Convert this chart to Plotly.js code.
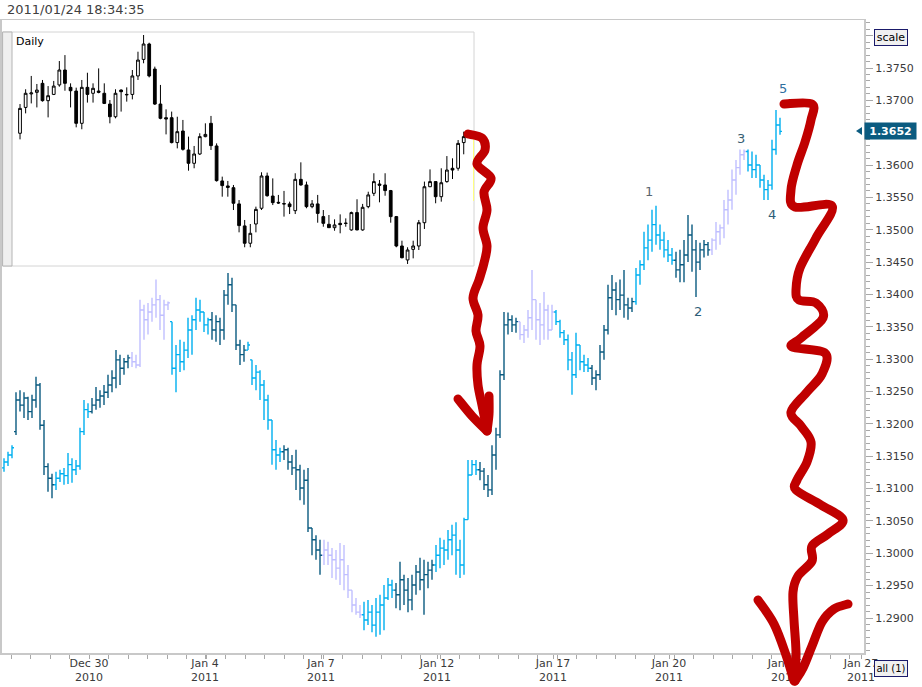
<!DOCTYPE html>
<html><head><meta charset="utf-8">
<script src="https://cdn.plot.ly/plotly-3.0.1.min.js"></script>
<style>
html,body{margin:0;padding:0;background:#fff;}
#chart{width:922px;height:687px;}
g.shapelayer path{stroke-linecap:round !important;stroke-linejoin:round !important;}
</style></head><body><div id="chart"></div>
<script>
// ===== Intraday EUR/USD bars (main chart) =====
const barOpen = [1.3132,1.3141,1.3152,1.3188,1.3237,1.3229,1.3240,1.3219,1.3237,1.3260,
1.3198,1.3134,1.3116,1.3106,1.3116,1.3123,1.3120,1.3137,1.3129,1.3135,
1.3188,1.3222,1.3219,1.3229,1.3237,1.3243,1.3249,1.3260,1.3271,1.3299,
1.3286,1.3296,1.3302,1.3296,1.3291,1.3376,1.3361,1.3373,1.3384,1.3392,
1.3368,1.3384,1.3358,1.3286,1.3307,1.3296,1.3314,1.3345,1.3361,1.3376,
1.3373,1.3353,1.3361,1.3345,1.3358,1.3345,1.3399,1.3415,1.3384,1.3322,
1.3307,1.3314,1.3299,1.3271,1.3280,1.3260,1.3237,1.3206,1.3160,1.3152,
1.3157,1.3160,1.3141,1.3132,1.3129,1.3101,1.3113,1.3039,1.3021,1.3005,
1.2997,1.3005,1.2997,1.2990,1.2977,1.2990,1.2967,1.2943,1.2920,1.2909,
1.2905,1.2897,1.2909,1.2889,1.2909,1.2920,1.2931,1.2951,1.2943,1.2936,
1.2959,1.2943,1.2928,1.2951,1.2971,1.2959,1.2967,1.2974,1.2982,1.2997,
1.3008,1.3005,1.3021,1.3028,1.3005,1.2982,1.3052,1.3121,1.3137,1.3129,
1.3127,1.3106,1.3098,1.3152,1.3183,1.3276,1.3353,1.3361,1.3353,1.3358,
1.3338,1.3345,1.3364,1.3392,1.3361,1.3353,1.3376,1.3345,1.3373,1.3358,
1.3341,1.3330,1.3299,1.3276,1.3322,1.3296,1.3291,1.3286,1.3271,1.3276,
1.3311,1.3345,1.3395,1.3407,1.3392,1.3399,1.3384,1.3379,1.3389,1.3430,
1.3446,1.3472,1.3484,1.3508,1.3492,1.3484,1.3469,1.3461,1.3453,1.3438,
1.3446,1.3461,1.3492,1.3469,1.3450,1.3469,1.3477,1.3469,1.3484,1.3497,
1.3503,1.3531,1.3546,1.3577,1.3596,1.3616,1.3621,1.3600,1.3593,1.3600,
1.3577,1.3562,1.3569,1.3624,1.3662];
const barHigh = [1.3147,1.3157,1.3167,1.3249,1.3252,1.3249,1.3242,1.3245,1.3273,1.3263,
1.3206,1.3139,1.3123,1.3126,1.3129,1.3132,1.3155,1.3147,1.3144,1.3194,
1.3237,1.3232,1.3240,1.3257,1.3252,1.3260,1.3276,1.3283,1.3314,1.3307,
1.3302,1.3307,1.3311,1.3307,1.3392,1.3384,1.3387,1.3395,1.3423,1.3399,
1.3392,1.3389,1.3358,1.3322,1.3330,1.3327,1.3364,1.3368,1.3395,1.3392,
1.3373,1.3364,1.3373,1.3368,1.3364,1.3407,1.3433,1.3426,1.3384,1.3330,
1.3322,1.3327,1.3299,1.3291,1.3283,1.3268,1.3245,1.3206,1.3175,1.3163,
1.3167,1.3163,1.3152,1.3160,1.3137,1.3129,1.3132,1.3039,1.3028,1.3021,
1.3021,1.3018,1.3008,1.3005,1.3016,1.3013,1.2982,1.2943,1.2931,1.2920,
1.2925,1.2928,1.2920,1.2931,1.2936,1.2951,1.2962,1.2959,1.2954,1.2987,
1.2967,1.2962,1.2967,1.2982,1.2993,1.2990,1.2987,1.2990,1.3013,1.3024,
1.3021,1.3036,1.3044,1.3048,1.3021,1.3055,1.3144,1.3144,1.3144,1.3141,
1.3132,1.3121,1.3167,1.3194,1.3283,1.3373,1.3372,1.3368,1.3364,1.3358,
1.3353,1.3376,1.3438,1.3392,1.3387,1.3404,1.3384,1.3384,1.3376,1.3361,
1.3345,1.3338,1.3311,1.3341,1.3322,1.3307,1.3302,1.3291,1.3283,1.3322,
1.3353,1.3415,1.3430,1.3419,1.3423,1.3438,1.3395,1.3395,1.3441,1.3453,
1.3497,1.3508,1.3531,1.3537,1.3508,1.3497,1.3484,1.3472,1.3466,1.3469,
1.3484,1.3523,1.3508,1.3484,1.3480,1.3484,1.3481,1.3487,1.3512,1.3508,
1.3546,1.3562,1.3593,1.3608,1.3624,1.3624,1.3624,1.3621,1.3616,1.3600,
1.3585,1.3577,1.3639,1.3685,1.3673];
const barLow = [1.3126,1.3135,1.3147,1.3183,1.3219,1.3209,1.3206,1.3209,1.3225,1.3191,
1.3121,1.3095,1.3085,1.3098,1.3110,1.3106,1.3107,1.3109,1.3121,1.3129,
1.3183,1.3209,1.3216,1.3222,1.3225,1.3229,1.3240,1.3249,1.3255,1.3260,
1.3276,1.3286,1.3288,1.3286,1.3288,1.3330,1.3338,1.3358,1.3364,1.3345,
1.3330,1.3376,1.3276,1.3249,1.3280,1.3283,1.3302,1.3307,1.3345,1.3358,
1.3342,1.3338,1.3330,1.3327,1.3322,1.3330,1.3384,1.3373,1.3314,1.3291,
1.3296,1.3314,1.3260,1.3252,1.3237,1.3206,1.3191,1.3137,1.3129,1.3141,
1.3144,1.3129,1.3121,1.3098,1.3082,1.3075,1.3033,1.2997,1.2990,1.2967,
1.2982,1.2982,1.2962,1.2959,1.2951,1.2943,1.2931,1.2909,1.2905,1.2900,
1.2881,1.2889,1.2878,1.2871,1.2874,1.2881,1.2928,1.2931,1.2915,1.2912,
1.2920,1.2909,1.2912,1.2936,1.2943,1.2905,1.2946,1.2959,1.2971,1.2977,
1.2982,1.2990,1.2997,1.2967,1.2962,1.2967,1.3052,1.3121,1.3121,1.3113,
1.3098,1.3087,1.3090,1.3129,1.3178,1.3268,1.3338,1.3342,1.3341,1.3330,
1.3325,1.3333,1.3345,1.3330,1.3322,1.3330,1.3330,1.3345,1.3353,1.3333,
1.3322,1.3283,1.3245,1.3271,1.3283,1.3280,1.3280,1.3260,1.3252,1.3268,
1.3299,1.3338,1.3376,1.3368,1.3376,1.3364,1.3361,1.3373,1.3384,1.3415,
1.3438,1.3453,1.3466,1.3477,1.3469,1.3457,1.3450,1.3446,1.3426,1.3419,
1.3419,1.3450,1.3435,1.3396,1.3438,1.3457,1.3460,1.3461,1.3469,1.3477,
1.3487,1.3508,1.3531,1.3554,1.3585,1.3608,1.3590,1.3580,1.3580,1.3565,
1.3546,1.3546,1.3562,1.3616,1.3647];
const barClose = [1.3141,1.3152,1.3163,1.3237,1.3229,1.3240,1.3219,1.3237,1.3260,1.3198,
1.3134,1.3116,1.3106,1.3116,1.3123,1.3120,1.3137,1.3129,1.3135,1.3188,
1.3222,1.3219,1.3229,1.3237,1.3243,1.3249,1.3260,1.3271,1.3299,1.3286,
1.3296,1.3302,1.3296,1.3291,1.3376,1.3361,1.3373,1.3384,1.3392,1.3368,
1.3384,1.3387,1.3286,1.3307,1.3296,1.3314,1.3345,1.3361,1.3376,1.3373,
1.3353,1.3361,1.3345,1.3358,1.3345,1.3399,1.3415,1.3384,1.3322,1.3307,
1.3314,1.3322,1.3271,1.3280,1.3260,1.3237,1.3206,1.3160,1.3152,1.3157,
1.3160,1.3141,1.3132,1.3129,1.3101,1.3113,1.3039,1.3021,1.3005,1.2997,
1.3005,1.2997,1.2990,1.2977,1.2990,1.2967,1.2943,1.2920,1.2909,1.2905,
1.2897,1.2909,1.2889,1.2909,1.2920,1.2931,1.2951,1.2943,1.2936,1.2959,
1.2943,1.2928,1.2951,1.2971,1.2959,1.2967,1.2974,1.2982,1.2997,1.3008,
1.3005,1.3021,1.3028,1.3005,1.2982,1.3052,1.3121,1.3137,1.3129,1.3127,
1.3106,1.3098,1.3152,1.3183,1.3276,1.3353,1.3361,1.3353,1.3358,1.3338,
1.3345,1.3364,1.3392,1.3361,1.3353,1.3376,1.3345,1.3373,1.3358,1.3341,
1.3330,1.3299,1.3276,1.3322,1.3296,1.3291,1.3286,1.3271,1.3276,1.3311,
1.3345,1.3395,1.3407,1.3392,1.3399,1.3384,1.3379,1.3389,1.3430,1.3446,
1.3472,1.3484,1.3508,1.3492,1.3484,1.3469,1.3461,1.3453,1.3438,1.3446,
1.3461,1.3492,1.3469,1.3450,1.3469,1.3477,1.3469,1.3484,1.3497,1.3503,
1.3531,1.3546,1.3577,1.3596,1.3616,1.3621,1.3600,1.3593,1.3600,1.3577,
1.3562,1.3569,1.3624,1.3662,1.3652];
// tone of each bar: D = dark teal, B = light blue, L = lavender
const barTone = ("BBB DDDDDDDDDD BBBBBBBBB DDDDDDDDDD LLLLLLLLLL BBBBBBBBBB DDDDDDDDD BBBBBBBBB DDDDDDDDDD LLLLLLLLLL " +
  "BBBBBBBB DDDDDDDDDD BBBBBBBBBBB DDDDDDDDDD LLLLLLLLL BBBBBBBBB DDDDDDDDDDD BBBBBBBBBB DDDDDDDDD LLLLLLLLL BBBBBBBBB")
  .replace(/ /g, '').split('');

// ===== Daily candles (inset) =====
const dayOpen = [1.3670,1.3831,1.3915,1.3925,1.3981,1.3873,1.3912,1.3971,1.4064,1.3956,
1.3933,1.3732,1.3956,1.3919,1.3933,1.3919,1.3852,1.3773,1.3939,1.3912,
1.3912,1.4027,1.4130,1.4226,1.4070,1.3852,1.3767,1.3767,1.3612,1.3684,
1.3566,1.3483,1.3541,1.3649,1.3732,1.3591,1.3373,1.3342,1.3331,1.3230,
1.3093,1.2985,1.3105,1.3203,1.3404,1.3279,1.3240,1.3232,1.3230,1.3188,
1.3383,1.3348,1.3213,1.3230,1.3151,1.3103,1.3082,1.3109,1.3108,1.3068,
1.3176,1.3068,1.3213,1.3296,1.3354,1.3348,1.3313,1.3151,1.2968,1.2881,
1.2947,1.2968,1.3113,1.3337,1.3369,1.3275,1.3369,1.3452,1.3452,1.3612];
const dayHigh = [1.3852,1.3944,1.4027,1.3977,1.4002,1.3964,1.3996,1.4120,1.4157,1.3981,
1.3954,1.4002,1.4047,1.3981,1.4074,1.3981,1.3877,1.3944,1.3944,1.3956,
1.4064,1.4178,1.4282,1.4234,1.4085,1.3971,1.3819,1.3805,1.3773,1.3753,
1.3649,1.3591,1.3670,1.3732,1.3778,1.3607,1.3400,1.3373,1.3348,1.3254,
1.3130,1.3105,1.3213,1.3427,1.3425,1.3389,1.3286,1.3311,1.3244,1.3421,
1.3489,1.3369,1.3254,1.3286,1.3192,1.3161,1.3134,1.3165,1.3140,1.3182,
1.3259,1.3230,1.3306,1.3421,1.3379,1.3421,1.3317,1.3155,1.3001,1.2960,
1.3001,1.3130,1.3369,1.3445,1.3371,1.3452,1.3528,1.3514,1.3628,1.3680];
const dayLow = [1.3632,1.3794,1.3856,1.3831,1.3867,1.3769,1.3908,1.3960,1.3935,1.3831,
1.3707,1.3695,1.3861,1.3861,1.3919,1.3852,1.3732,1.3763,1.3805,1.3867,
1.3881,1.4002,1.4106,1.4018,1.3846,1.3757,1.3663,1.3607,1.3576,1.3562,
1.3437,1.3452,1.3535,1.3645,1.3566,1.3369,1.3275,1.3275,1.3192,1.3053,
1.2960,1.2960,1.3053,1.3192,1.3275,1.3223,1.3230,1.3151,1.3167,1.3167,
1.3344,1.3203,1.3203,1.3113,1.3088,1.3080,1.3063,1.3047,1.3088,1.3063,
1.3066,1.3063,1.3203,1.3279,1.3240,1.3281,1.3113,1.2960,1.2891,1.2856,
1.2891,1.2943,1.3074,1.3335,1.3234,1.3244,1.3362,1.3385,1.3437,1.3539];
const dayClose = [1.3825,1.3919,1.3921,1.3939,1.3873,1.3904,1.3964,1.4064,1.3981,1.3935,
1.3732,1.3956,1.3912,1.3950,1.3925,1.3856,1.3773,1.3919,1.3929,1.3910,
1.4027,1.4126,1.4226,1.4027,1.3852,1.3763,1.3759,1.3612,1.3680,1.3570,
1.3483,1.3541,1.3649,1.3663,1.3593,1.3375,1.3344,1.3333,1.3234,1.3095,
1.2985,1.3047,1.3196,1.3404,1.3281,1.3238,1.3236,1.3230,1.3213,1.3383,
1.3348,1.3213,1.3230,1.3171,1.3109,1.3082,1.3099,1.3101,1.3110,1.3176,
1.3068,1.3209,1.3286,1.3369,1.3346,1.3313,1.3151,1.2968,1.2895,1.2943,
1.2968,1.3113,1.3337,1.3369,1.3275,1.3362,1.3441,1.3441,1.3607,1.3649];

// ===== Axis labels =====
const yTickVals = [1.2900,1.2950,1.3000,1.3050,1.3100,1.3150,1.3200,1.3250,1.3300,1.3350,1.3400,1.3450,
                   1.3500,1.3550,1.3600,1.3650,1.3700,1.3750,1.3800];
const yHiddenLabels = [1.3650, 1.3800];   // covered by the price flag / "scale" button in the reference
const xTickVals = [21.25, 50.25, 79.25, 108.25, 137.25, 166.25, 195.25, 214.25];
const xTickText = ['Dec 30<br>2010','Jan 4<br>2011','Jan 7<br>2011','Jan 12<br>2011','Jan 17<br>2011',
                   'Jan 20<br>2011','Jan 25<br>2011','Jan 27<br>2011'];
const lastPrice = 1.3652;
const waveNames = ['1','2','3','4','5'];

// ===== Layout geometry (pixels) =====
const W = 922, H = 687, ML = 2, MR = 58, MT = 20, MB = 34;
const PW = W - ML - MR, PH = H - MT - MB;
const X = px => ((px - ML) / PW).toFixed(5);
const Y = py => (1 - (py - MT) / PH).toFixed(5);
const Xn = px => (px - ML) / PW;
const Yn = py => 1 - (py - MT) / PH;

const toneColor = {D: '#0b5b80', B: '#00b0f0', L: '#c0bfff'};
const traces = [];
['L', 'B', 'D'].forEach(t => {
  const xs = [], o = [], h = [], l = [], c = [];
  barTone.forEach((tt, i) => {
    if (tt === t) { xs.push(i); o.push(barOpen[i]); h.push(barHigh[i]); l.push(barLow[i]); c.push(barClose[i]); }
  });
  traces.push({
    type: 'ohlc', x: xs, open: o, high: h, low: l, close: c,
    xaxis: 'x', yaxis: 'y', tickwidth: 0.5,
    increasing: {line: {color: toneColor[t], width: 1.4}},
    decreasing: {line: {color: toneColor[t], width: 1.4}},
    hoverinfo: 'skip', showlegend: false
  });
});
traces.push({
  type: 'candlestick', x: dayOpen.map((_, i) => i),
  open: dayOpen, high: dayHigh, low: dayLow, close: dayClose,
  xaxis: 'x2', yaxis: 'y2', whiskerwidth: 0,
  increasing: {line: {color: '#000', width: 1}, fillcolor: '#ffffff'},
  decreasing: {line: {color: '#000', width: 1}, fillcolor: '#000000'},
  hoverinfo: 'skip', showlegend: false
});

// hand-drawn red arrows (pixel points)
const arrow1 = [[468,134],[482,138],[485,150],[477,164],[491,178],[484,192],[487,210],[483,228],[487,246],[484,263],
  [479,280],[473,298],[478,315],[476,331],[480,346],[477,365],[478,385],[482,405],[487,430]];
const arrow1L = [[458,399],[472,416],[487,431]];
const arrow1R = [[489,396],[489,414],[487,431]];
const arrow2 = [[784,104],[812,104],[811,120],[805,142],[797,165],[791,190],[795,207],[832,206],[816,238],[800,268],
  [796,290],[799,300],[816,303],[823,318],[801,338],[792,347],[825,353],[822,374],[807,392],[791,412],[801,426],
  [811,442],[807,462],[797,480],[796,490],[821,505],[843,520],[828,534],[812,546],[812,561],[798,576],[793,592],
  [794,620],[796,652],[795,681]];
const arrow2L = [[758,600],[774,624],[786,655],[794,681]];
const arrow2R = [[848,604],[834,609],[822,622],[812,646],[803,668],[795,681]];

function smooth(pts) {
  let d = 'M' + X(pts[0][0]) + ',' + Y(pts[0][1]);
  for (let i = 0; i < pts.length - 1; i++) {
    const p0 = pts[i - 1] || pts[i], p1 = pts[i], p2 = pts[i + 1], p3 = pts[i + 2] || p2;
    const c1 = [p1[0] + (p2[0] - p0[0]) / 6, p1[1] + (p2[1] - p0[1]) / 6];
    const c2 = [p2[0] - (p3[0] - p1[0]) / 6, p2[1] - (p3[1] - p1[1]) / 6];
    d += ' C' + X(c1[0]) + ',' + Y(c1[1]) + ' ' + X(c2[0]) + ',' + Y(c2[1]) + ' ' + X(p2[0]) + ',' + Y(p2[1]);
  }
  return d;
}
const red = '#c00000';
const shapes = [
  {type: 'rect', xref: 'paper', yref: 'paper', x0: Xn(3), x1: Xn(474), y0: Yn(266), y1: Yn(32),
   fillcolor: '#ffffff', line: {color: '#d4d4d4', width: 1}, layer: 'below'},
  {type: 'rect', xref: 'paper', yref: 'paper', x0: Xn(3), x1: Xn(12), y0: Yn(266), y1: Yn(32),
   fillcolor: '#efefef', line: {color: '#b4b4b4', width: 1}, layer: 'below'},
  {type: 'rect', xref: 'paper', yref: 'paper', x0: Xn(441), x1: Xn(474), y0: Yn(201), y1: Yn(131),
   fillcolor: '#ffff80', line: {width: 0}, layer: 'below'},
  {type: 'path', xref: 'paper', yref: 'paper',
   path: 'M' + X(856) + ',' + Y(131) + ' L' + X(862) + ',' + Y(127) + ' L' + X(862) + ',' + Y(135) + ' Z',
   fillcolor: '#0b5b80', line: {width: 0}, layer: 'above'}
];
[arrow1, arrow1L, arrow1R, arrow2, arrow2L, arrow2R].forEach(p => {
  shapes.push({type: 'path', xref: 'paper', yref: 'paper', path: smooth(p),
    line: {color: red, width: 9}, layer: 'above'});
});

const wavePos = [[161.25, 1.3559, '#5a6670'], [173.5, 1.3373, '#2d5e78'], [184.25, 1.3641, '#3a5f74'],
                 [192, 1.3523, '#2d5e78'], [194.75, 1.3718, '#2f6f9f']];
const annotations = [
  {xref: 'paper', yref: 'paper', x: Xn(5), y: Yn(10), xanchor: 'left', yanchor: 'middle', showarrow: false,
   text: '2011/01/24 18:34:35', font: {family: 'DejaVu Sans', size: 13, color: '#404040'}},
  {xref: 'paper', yref: 'paper', x: Xn(14), y: Yn(42), xanchor: 'left', yanchor: 'middle', showarrow: false,
   text: 'Daily', font: {family: 'DejaVu Sans', size: 11, color: '#000'}},
  {xref: 'paper', yref: 'y', x: 1, y: lastPrice, xanchor: 'left', yanchor: 'middle', showarrow: false,
   text: '<b>' + lastPrice.toFixed(4) + '</b>', bgcolor: '#0b5b80', width: 51, height: 16, borderpad: 0,
   font: {family: 'DejaVu Sans', size: 11, color: '#ffffff'}},
  {xref: 'paper', yref: 'paper', x: Xn(891), y: Yn(37.5), xanchor: 'center', yanchor: 'middle', showarrow: false,
   text: 'scale', bgcolor: '#f0f0f0', bordercolor: '#1a1a6a', borderwidth: 1, borderpad: 1, width: 30, height: 13,
   font: {family: 'DejaVu Sans', size: 11, color: '#000'}},
  {xref: 'paper', yref: 'paper', x: Xn(891), y: Yn(668), xanchor: 'center', yanchor: 'middle', showarrow: false,
   text: 'all (1)', bgcolor: '#f0f0f0', bordercolor: '#1a1a6a', borderwidth: 1, borderpad: 1, width: 30, height: 13,
   font: {family: 'DejaVu Sans', size: 10, color: '#000'}}
];
waveNames.forEach((n, k) => {
  annotations.push({xref: 'x', yref: 'y', x: wavePos[k][0], y: wavePos[k][1], showarrow: false, text: n,
    font: {family: 'DejaVu Sans', size: 13, color: wavePos[k][2]}});
});

const layout = {
  width: W, height: H, margin: {l: ML, r: MR, t: MT, b: MB, pad: 0},
  paper_bgcolor: '#ffffff', plot_bgcolor: '#ffffff',
  font: {family: 'DejaVu Sans', size: 11, color: '#3a3a3a'},
  showlegend: false, hovermode: false, dragmode: false,
  xaxis: {range: [-0.5, 215], domain: [0, 1], anchor: 'y', showgrid: false, zeroline: false,
    showline: true, mirror: true, linecolor: '#c8c8c8', linewidth: 1.5,
    tickmode: 'array', tickvals: xTickVals, ticktext: xTickText, ticks: 'outside', ticklen: 4,
    ticklabelstandoff: -5,
    tickcolor: '#a8a8a8', tickfont: {family: 'DejaVu Sans', size: 11, color: '#3a3a3a'},
    minor: {tickmode: 'linear', tick0: 21.25, dtick: 4.875, ticks: 'outside', ticklen: 4, tickcolor: '#a8a8a8', showgrid: false},
    rangeslider: {visible: false}, fixedrange: true, automargin: false},
  yaxis: {range: [1.28459, 1.38242], domain: [0, 1], anchor: 'x', side: 'right', showgrid: false, zeroline: false,
    showline: true, mirror: true, linecolor: '#c8c8c8', linewidth: 2,
    tickmode: 'array', tickvals: yTickVals,
    ticktext: yTickVals.map(v => yHiddenLabels.some(h => Math.abs(h - v) < 1e-6) ? '' : v.toFixed(4)),
    ticks: 'outside', ticklen: 7, tickcolor: '#a8a8a8',
    tickfont: {family: 'DejaVu Sans', size: 11, color: '#3a3a3a'},
    minor: {tickmode: 'linear', tick0: 1.28, dtick: 0.001, ticks: 'outside', ticklen: 4, tickcolor: '#a8a8a8', showgrid: false},
    fixedrange: true, automargin: false},
  xaxis2: {domain: [Xn(13), Xn(473)], anchor: 'y2', range: [-1.25, 80.65], visible: false,
    rangeslider: {visible: false}, fixedrange: true},
  yaxis2: {domain: [Yn(265), Yn(33)], anchor: 'x2', range: [1.28496, 1.42945], visible: false, fixedrange: true},
  shapes: shapes, annotations: annotations
};

Plotly.newPlot('chart', traces, layout, {displayModeBar: false, staticPlot: true});
</script>
</body></html>
